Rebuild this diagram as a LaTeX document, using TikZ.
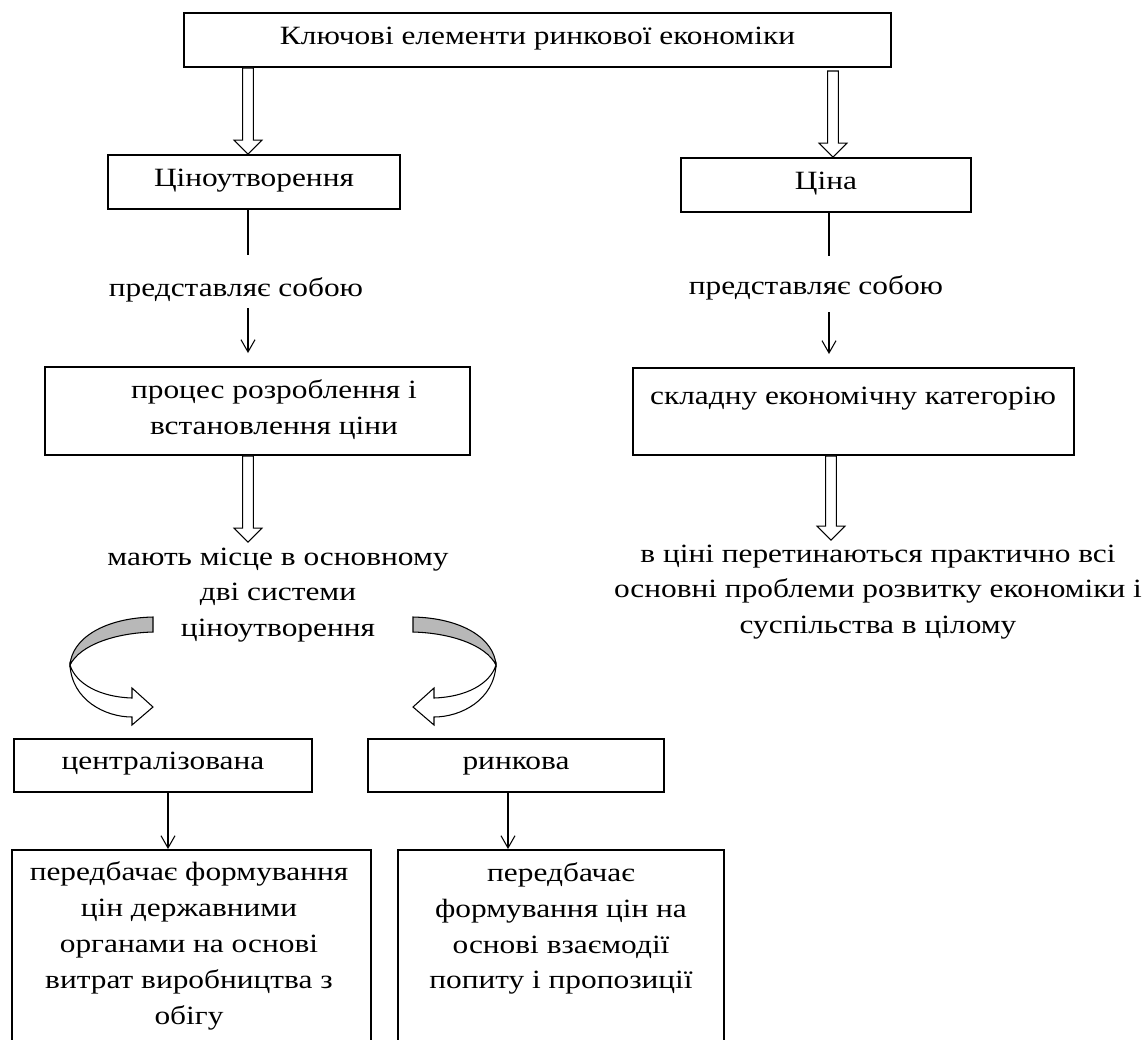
\documentclass[tikz,border=0pt]{standalone}
\usepackage{fontspec}
\setmainfont[FakeStretch=1.19]{Liberation Serif}
\usetikzlibrary{calc,arrows.meta}
\newcommand\pxu[1]{#1*0.02cm}
\newcommand\hollowarrow[2]{%
  \draw[hollowstyle] let \p1=#1, \p2=#2 in
    (\x1-3.1pt,\y1) -- (\x1+3.1pt,\y1) -- (\x1+3.1pt,\y2+7.9pt) -- (\x1+7.9pt,\y2+7.9pt)
    -- (\x1,\y2) -- (\x1-7.9pt,\y2+7.9pt) -- (\x1-3.1pt,\y2+7.9pt) -- cycle;}
\begin{document}
\begin{tikzpicture}[x=0.02cm,y=-0.02cm,
  font=\fontsize{15}{20.4}\selectfont,
  boxstyle/.style={draw, line width=1.1pt, inner sep=0pt, align=center},
  onel/.style={text height=0.7em, text depth=0.22em},
  txt/.style={align=center, inner sep=0pt},
  hollowstyle/.style={draw, fill=white, line width=0.6pt, line join=miter},
  thinline/.style={line width=0.6pt},
  thinarrow/.style={line width=0.6pt, -{Straight Barb[length=7pt,width=8pt]}},
  curl/.style={draw, line width=0.6pt, fill=#1},
]
\useasboundingbox (0,0) rectangle (1147,1039);
\fill[white] (0,0) rectangle (1147,1039);

% boxes
\node[boxstyle, onel, minimum width=\pxu{707}, minimum height=\pxu{54}] (tb) at (537.5,40) {Ключові елементи ринкової економіки};
\node[boxstyle, onel, minimum width=\pxu{292}, minimum height=\pxu{54}] (cin) at (254,182) {Ціноутворення};
\node[boxstyle, onel, minimum width=\pxu{290}, minimum height=\pxu{54}] (cina) at (826,185) {Ціна};
\node[boxstyle, minimum width=\pxu{425}, minimum height=\pxu{88}] (proc) at (257.5,411) {};
\node[txt] (proct) at (274,410) {процес розроблення і\\встановлення ціни};
\node[boxstyle, minimum width=\pxu{441}, minimum height=\pxu{87}] (skl) at (853.5,411.5) {};
\node[txt, onel] (sklt) at (853,400) {складну економічну категорію};
\node[boxstyle, onel, minimum width=\pxu{298}, minimum height=\pxu{53}] (cen) at (163,765.5) {централізована};
\node[boxstyle, onel, minimum width=\pxu{296}, minimum height=\pxu{53}] (rin) at (516,765.5) {ринкова};
\node[boxstyle, minimum width=\pxu{359}, minimum height=\pxu{210}] (bl) at (191.5,955) {};
\node[txt] (blt) at (189,946) {передбачає формування\\цін державними\\органами на основі\\витрат виробництва з\\обігу};
\node[boxstyle, minimum width=\pxu{326}, minimum height=\pxu{210}] (br) at (561,955) {};
\node[txt] (brt) at (561,928.5) {передбачає\\формування цін на\\основі взаємодії\\попиту і пропозиції};

% free texts
\node[txt, onel] (rep1) at (236,292) {представляє собою};
\node[txt, onel] (rep2) at (816,290) {представляє собою};
\node[txt] (sys) at (278,595) {мають місце в основному\\дві системи\\ціноутворення};
\node[txt] (prob) at (878,592) {в ціні перетинаються практично всі\\основні проблеми розвитку економіки і\\суспільства в цілому};

% reference x positions
\coordinate (la) at (248,0);
\coordinate (ra) at (829,0);
\coordinate (rh) at (833,0);
\coordinate (rb) at (831,0);
\coordinate (ca) at (168,0);
\coordinate (ra2) at (508,0);

% hollow arrows
\hollowarrow{(la |- tb.south)}{(la |- cin.north)}
\hollowarrow{($(rh |- tb.south)+(0,3)$)}{(rh |- cina.north)}
\hollowarrow{(la |- proc.south)}{(la |- 0,542)}
\hollowarrow{(rb |- skl.south)}{(rb |- 0,540)}

% thin connectors
\draw[thinline] (la |- cin.south) -- (la |- 0,255);
\draw[thinarrow] (la |- 0,308) -- (la |- 0,353);
\draw[thinline] (ra |- cina.south) -- (ra |- 0,256);
\draw[thinarrow] (ra |- 0,312) -- (ra |- 0,354);
\draw[thinarrow] (ca |- cen.south) -- (ca |- bl.north);
\draw[thinarrow] (ra2 |- rin.south) -- (ra2 |- br.north);

% curled arrows (left)
\path[curl=black!28] (153,617) .. controls (105,618) and (72,638) .. (70,665)
  .. controls (80,645) and (115,633) .. (153,632) -- cycle;
\path[curl=white] (70,665) .. controls (72,700) and (105,717) .. (132,717)
  -- (132,725) -- (153,707) -- (132,688) -- (132,698)
  .. controls (100,697) and (76,684) .. (70,665) -- cycle;
% curled arrows (right, mirrored)
\path[curl=black!28] (413,617) .. controls (461,618) and (494,638) .. (496,665)
  .. controls (486,645) and (451,633) .. (413,632) -- cycle;
\path[curl=white] (496,665) .. controls (494,700) and (461,717) .. (434,717)
  -- (434,725) -- (413,707) -- (434,688) -- (434,698)
  .. controls (466,697) and (490,684) .. (496,665) -- cycle;
\end{tikzpicture}
\end{document}
